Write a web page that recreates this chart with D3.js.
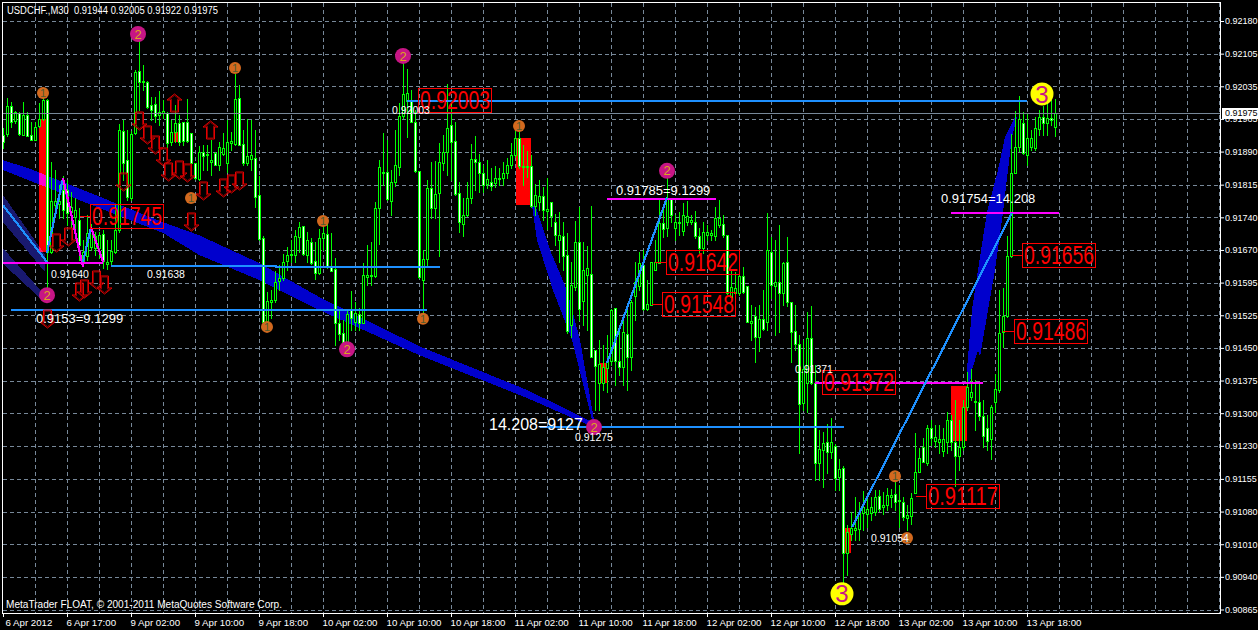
<!DOCTYPE html>
<html>
<head>
<meta charset="utf-8">
<style>
html, body { margin: 0; padding: 0; background: #000; overflow: hidden; }
svg { display: block; }
text { font-family: "Liberation Sans", Arial, sans-serif; }
</style>
<script src="https://cdn.jsdelivr.net/npm/d3@7"></script>
</head>
<body>
<svg></svg>
<script>
var w = 1258, h = 630;

// USDCHF M30 candles, prices in points (1e-5)
var opens = [
91925,91927,91990,91956,91974,91925,91970,91925,91914,91945,
91961,92003,91663,91768,91771,91802,91802,91753,91742,91735,
91643,91654,91675,91672,91672,91704,91637,91643,91663,91713,
91934,91869,91784,91930,92068,92046,92044,91992,91994,91970,
91974,91974,91909,91932,91952,91954,91954,91930,91862,91827,
91887,91880,91865,91885,91858,91883,91862,91907,91905,92008,
91905,91862,91871,91874,91791,91695,91507,91552,91556,91599,
91605,91643,91657,91657,91697,91722,91657,91686,91643,91617,
91695,91704,91630,91625,91505,91482,91460,91534,91507,91525,
91505,91608,91610,91610,91762,91840,91842,91777,91820,91854,
91968,92001,92001,91954,91845,91601,91648,91807,91762,91795,
91862,91887,91947,91912,91795,91726,91746,91784,91871,91865,
91840,91815,91820,91818,91827,91829,91840,91858,91880,91918,
91856,91856,91856,91766,91775,91789,91755,91775,91730,91690,
91699,91657,91500,91585,91686,91554,91612,91614,91444,91370,
91370,91404,91420,91538,91420,91406,91480,91429,91565,91587,
91634,91536,91545,91623,91639,91728,91717,91784,91717,91728,
91710,91730,91730,91730,91699,91672,91701,91701,91699,91724,
91726,91701,91563,91572,91572,91610,91587,91505,91520,91473,
91514,91507,91663,91587,91596,91572,91641,91552,91487,91458,
91326,91370,91471,91370,91191,91221,91238,91216,91230,91160,
91180,90990,91033,91042,91044,91080,91077,91080,91082,91118,
91093,91098,91115,91122,91109,91104,91068,91073,91124,91171,
91227,91191,91270,91241,91238,91218,91238,91288,91238,91207,
91227,91317,91339,91330,91328,91297,91270,91245,91328,91355,
91484,91520,91654,91840,91898,91952,91880,91898,91896,91938,
91965,91952,91963,91944];
var highs = [
91941,92008,91999,91979,91977,91999,91977,91954,91954,91997,
92019,92006,91865,91847,91813,91833,91824,91798,91784,91762,
91690,91746,91726,91708,91708,91713,91690,91690,91768,91950,
91959,91936,91934,92070,92137,92082,92046,92010,92010,92023,
92003,91977,91959,91992,91970,91954,92006,91930,91862,91900,
91903,91903,91914,91887,91909,91930,91959,91932,92061,92037,
91936,91961,91959,91936,91833,91699,91574,91578,91621,91634,
91659,91675,91690,91713,91730,91722,91708,91695,91686,91715,
91726,91726,91706,91650,91534,91511,91534,91576,91552,91538,
91639,91679,91686,91775,91869,91930,91914,91847,91936,91997,
92088,92073,92026,91981,91845,91668,91824,91865,91867,91907,
91925,92039,92003,91954,91820,91784,91820,91905,91923,91883,
91858,91869,91851,91856,91851,91865,91874,91907,91934,91932,
91903,91889,91880,91815,91824,91809,91829,91775,91748,91753,
91730,91706,91641,91733,91764,91686,91677,91766,91444,91467,
91455,91478,91536,91538,91489,91511,91534,91556,91641,91663,
91668,91601,91641,91690,91780,91757,91829,91784,91746,91753,
91773,91777,91746,91755,91717,91730,91724,91713,91764,91780,
91746,91701,91623,91619,91623,91630,91587,91545,91540,91545,
91578,91751,91697,91690,91724,91641,91697,91552,91545,91478,
91467,91529,91543,91411,91265,91261,91279,91292,91234,91200,
91185,91053,91082,91115,91104,91129,91115,91115,91131,91131,
91127,91136,91134,91149,91142,91115,91098,91124,91259,91225,
91247,91276,91288,91276,91276,91270,91306,91299,91332,91288,
91332,91395,91402,91377,91370,91332,91299,91321,91391,91578,
91583,91699,91927,91979,92012,91977,91974,91936,91965,91981,
91990,91997,92003,92005];
var lows = [
91896,91923,91943,91952,91925,91925,91923,91914,91914,91943,
91959,91578,91661,91762,91739,91739,91724,91719,91708,91645,
91632,91645,91668,91657,91650,91628,91625,91637,91661,91708,
91824,91780,91780,91927,91981,92026,91985,91959,91954,91947,
91963,91892,91903,91909,91903,91903,91909,91836,91827,91824,
91847,91847,91836,91858,91847,91880,91842,91892,91903,91903,
91858,91858,91847,91764,91690,91507,91505,91516,91552,91578,
91601,91623,91641,91641,91663,91657,91641,91637,91603,91614,
91668,91628,91621,91455,91467,91455,91455,91489,91489,91489,
91505,91590,91590,91608,91681,91813,91780,91746,91811,91836,
91963,91921,91954,91842,91605,91522,91634,91739,91739,91654,
91847,91836,91824,91791,91708,91699,91744,91773,91802,91798,
91798,91807,91802,91809,91813,91813,91829,91851,91876,91851,
91813,91831,91764,91746,91757,91735,91715,91722,91679,91641,
91623,91482,91473,91578,91511,91500,91489,91429,91310,91310,
91355,91350,91411,91366,91388,91366,91355,91400,91511,91578,
91534,91534,91545,91623,91639,91697,91699,91730,91690,91701,
91701,91724,91726,91695,91661,91661,91690,91690,91690,91719,
91697,91570,91556,91567,91567,91572,91507,91467,91417,91442,
91489,91489,91561,91478,91484,91545,91543,91417,91444,91214,
91310,91306,91368,91153,91153,91138,91169,91203,91131,91131,
90925,90941,91019,91019,91019,91042,91048,91064,91075,91084,
91077,91086,91093,91086,91048,91064,91042,91055,91124,91171,
91194,91187,91232,91227,91214,91207,91214,91221,91140,91176,
91221,91310,91332,91265,91288,91227,91221,91200,91306,91350,
91451,91518,91652,91840,91889,91883,91858,91892,91892,91925,
91925,91925,91947,91922];
var closes = [
91909,91990,91954,91977,91927,91970,91923,91914,91943,91961,
92003,91663,91777,91777,91777,91757,91751,91764,91757,91679,
91663,91706,91717,91699,91701,91643,91641,91666,91713,91936,
91862,91786,91927,92066,92044,92044,91988,91981,91968,91977,
91979,91907,91932,91952,91909,91912,91912,91862,91829,91887,
91878,91883,91869,91858,91898,91896,91909,91912,92006,91903,
91862,91878,91880,91786,91692,91507,91554,91556,91596,91605,
91641,91657,91659,91699,91719,91659,91690,91639,91617,91695,
91706,91632,91621,91505,91480,91460,91525,91516,91527,91505,
91612,91612,91612,91762,91854,91842,91782,91820,91858,91968,
92017,92019,91954,91845,91608,91648,91807,91762,91793,91865,
91887,91941,91909,91793,91730,91746,91784,91871,91865,91840,
91813,91827,91811,91829,91829,91840,91858,91880,91918,91856,
91854,91854,91766,91791,91789,91757,91760,91744,91701,91701,
91654,91487,91590,91686,91536,91623,91628,91429,91408,91413,
91406,91417,91534,91420,91406,91484,91429,91552,91596,91639,
91536,91547,91641,91641,91728,91715,91784,91746,91730,91730,
91746,91744,91735,91699,91672,91708,91708,91706,91739,91739,
91701,91572,91585,91583,91610,91574,91507,91509,91473,91514,
91491,91668,91590,91596,91572,91639,91552,91484,91458,91323,
91402,91471,91370,91191,91223,91236,91216,91238,91158,91178,
90990,91037,91046,91046,91082,91093,91089,91093,91115,91089,
91098,91120,91120,91104,91107,91071,91075,91113,91171,91203,
91194,91270,91247,91250,91245,91245,91288,91238,91207,91227,
91317,91361,91350,91328,91297,91252,91241,91317,91357,91482,
91520,91654,91840,91898,91961,91885,91918,91918,91941,91965,
91952,91963,91959,91975];

var lastPrice = 91975;
var titleText = "USDCHF.,M30  0.91944 0.92005 0.91922 0.91975";
var copyText = "MetaTrader FLOAT, \u00a9 2001-2011 MetaQuotes Software Corp.";

var timeBars = [0,16,32,48,64,80,96,112,128,144,160,176,192,208,224,240,256];
var timeLabels = ["6 Apr 2012","6 Apr 17:00","9 Apr 02:00","9 Apr 10:00","9 Apr 18:00","10 Apr 02:00",
    "10 Apr 10:00","10 Apr 18:00","11 Apr 02:00","11 Apr 10:00","11 Apr 18:00","12 Apr 02:00",
    "12 Apr 10:00","12 Apr 18:00","13 Apr 02:00","13 Apr 10:00","13 Apr 18:00"];
var tickPrices = [92180,92107,92034,91961,91888,91814,91741,91668,91595,91522,91449,91376,91303,91230,91156,91083,91010,90937,90864];
var priceLabels = ["0.92180","0.92105","0.92035","0.91965","0.91890","0.91815","0.91740","0.91670","0.91595","0.91525",
    "0.91450","0.91375","0.91300","0.91230","0.91155","0.91080","0.91010","0.90940","0.90865"];

// ribbons: bar, upper price, lower price
var ribbonBars = [0,7.5,40,49,64,79,104,131,147];
var ribbonTop = [91869,91847,91730,91701,91639,91563,91453,91355,91285];
var ribbonBottom = [91847,91820,91706,91657,91601,91534,91433,91337,91274];
// outlines: bars and prices going round the shape
var fallBars = [132.25,133.5,137.5,142.25,147.25,147.75,144.25,141,136.75,133.25];
var fallPrices = [91768,91690,91578,91467,91288,91288,91467,91578,91668,91764];
var riseBars = [241.25,241,241.25,242.25,243.75,246,248.75,250.5,253,253.5,252.25,251.25,250,248,246.25,244.25,243.75,242.25,241.75];
var risePrices = [91373,91400,91429,91534,91623,91753,91847,91921,91965,91965,91921,91847,91753,91623,91534,91429,91444,91400,91373];
var navyABars = [0,10.5,10.5,0];
var navyAPrices = [91791,91657,91619,91730];
var navyBBars = [0,9.75,9.75,0];
var navyBPrices = [91672,91574,91556,91637];

// red zones: first bar, last bar, top price, bottom price
var zoneStart = [9,128.25,149.25,237,210.5,42.75];
var zoneEnd = [11,132,151,241,212,43.75];
var zoneTop = [91961,91918,91415,91364,91046,91932];
var zoneBottom = [91663,91768,91370,91241,90990,91909];

// level lines
var blueStart = [27,68,2,101,134.25];
var blueEnd = [68.5,109.25,106,256,210.25];
var bluePrice = [91634,91632,91536,92003,91275];
var magentaStart = [0,151,237,203];
var magentaEnd = [25,178.25,264,245];
var magentaPrice = [91641,91785,91754,91372];

// swing lines
var legBar1 = [0,11,15,20,22,151,212.25];
var legPrice1 = [91768,91661,91829,91641,91719,91415,91048];
var legBar2 = [11,15,20,22,25,166,252.25];
var legPrice2 = [91641,91829,91630,91719,91641,91785,91751];
var legColor = ["#1e90ff","#1e90ff","#ff00ff","#1e90ff","#ff00ff","#1e90ff","#1e90ff"];

// numbered wave markers
var waveBars = [10,58,47,80,66,105,129,223,226, 33.75,100,11,86,147.75,166, 259.75,209.75];
var wavePrices = [92019,92075,91784,91733,91496,91514,91945,91162,91024, 92151,92102,91567,91446,91272,91845, 92017,90899];
var waveNums = [1,1,1,1,1,1,1,1,1, 2,2,2,2,2,2, 3,3];

// arrows: bar and price of the top of the glyph
var downBars = [34,36,38,40,41.25,44,46,50,55,57,59,30,13.25,16.25,47,19,20.25,23.25,25.25,11];
var downPrices = [91977,91945,91923,91896,91862,91867,91860,91820,91827,91836,91842,91840,91704,91717,91751,91594,91601,91621,91610,91534];
var upBars = [42.75,51.75];
var upPrices = [92017,91956];

// red price boxes
var boxText = ["0.91745","0.92003","0.91642","0.91548","0.91372","0.91117","0.91656","0.91486"];
var boxBars = [21.75,103.75,165.75,164.75,204.75,230.75,254.75,252.75];
var boxPrices = [91745,92003,91642,91548,91372,91117,91656,91486];
var boxFrom = [19.25,103.75,163,162.25,204.75,228.25,252.25,250];

// white notes
var noteText = ["0.91640","0.91638","0.9153=9.1299","0.92003","14.208=9127","0.91275","0.91785=9.1299","0.91754=14.208","0.91371","0.91054"];
var noteBars = [12,36,8.25,97.25,121.5,143,153.25,234.5,198,217];
var notePrices = [91614,91614,91516,91981,91279,91250,91802,91784,91402,91024];
var noteSizes = [10.5,10.5,13,10.5,16,10.5,13,13,10.5,10.5];

var GRID = "#778899", LIME = "#00ff00", RED = "#ff0000";

var xScale = d3.scaleLinear().domain([0, 304.25]).range([3, 1220]);
var yScale = d3.scaleLinear().domain([92180, 90864]).range([21, 609.5]);
var px = function (b) { return Math.round(xScale(b)); };
var py = function (p) { return Math.round(yScale(p)); };

var svg = d3.select("svg")
    .attr("width", w)
    .attr("height", h)
    .style("background-color", "black");

// grid
var gridG = svg.append("g")
    .attr("stroke", GRID)
    .attr("stroke-dasharray", "4,3")
    .attr("shape-rendering", "crispEdges");
gridG.selectAll(".gx")
    .data(d3.range(8, 305, 8))
    .join("line")
    .attr("x1", function (d) { return px(d) + 0.5; })
    .attr("x2", function (d) { return px(d) + 0.5; })
    .attr("y1", 3)
    .attr("y2", 613);
gridG.selectAll(".gy")
    .data(tickPrices)
    .join("line")
    .attr("x1", 3)
    .attr("x2", 1220)
    .attr("y1", function (d) { return py(d) + 0.5; })
    .attr("y2", function (d) { return py(d) + 0.5; });

// zones and ribbons, screen blended so the overlap comes out magenta
var back = svg.append("g").style("isolation", "isolate").attr("shape-rendering", "crispEdges");
back.selectAll("rect")
    .data(zoneStart)
    .join("rect")
    .attr("x", function (d) { return px(d); })
    .attr("width", function (d, i) { return px(zoneEnd[i]) - px(d); })
    .attr("y", function (d, i) { return py(zoneTop[i]); })
    .attr("height", function (d, i) { return py(zoneBottom[i]) - py(zoneTop[i]); })
    .attr("fill", RED);

var lineMaker = d3.line()
    .x(function (d) { return xScale(d[0]); })
    .y(function (d) { return yScale(d[1]); });
var bandMaker = d3.area()
    .x(function (d) { return xScale(d); })
    .y0(function (d, i) { return yScale(ribbonBottom[i]); })
    .y1(function (d, i) { return yScale(ribbonTop[i]); });

back.append("path").attr("d", bandMaker(ribbonBars)).attr("fill", "#0000cd").style("mix-blend-mode", "screen");
[[fallBars, fallPrices, "#0000cd"], [riseBars, risePrices, "#0000cd"],
 [navyABars, navyAPrices, "#191970"], [navyBBars, navyBPrices, "#191970"]].forEach(function (s) {
    back.append("path")
        .attr("d", lineMaker(d3.zip(s[0], s[1])) + "Z")
        .attr("fill", s[2])
        .style("mix-blend-mode", "screen");
});

// candles
var bars = d3.range(opens.length);
var candles = svg.append("g")
    .attr("stroke", LIME)
    .attr("shape-rendering", "crispEdges");
candles.selectAll("line")
    .data(bars)
    .join("line")
    .attr("x1", function (d) { return px(d) + 0.5; })
    .attr("x2", function (d) { return px(d) + 0.5; })
    .attr("y1", function (d) { return py(highs[d]); })
    .attr("y2", function (d) { return py(lows[d]) + 1; });
candles.selectAll("rect")
    .data(bars)
    .join("rect")
    .attr("x", function (d) { return px(d) - 0.5; })
    .attr("width", 2)
    .attr("y", function (d) { return py(Math.max(opens[d], closes[d])) + 0.5; })
    .attr("height", function (d) { return py(Math.min(opens[d], closes[d])) - py(Math.max(opens[d], closes[d])); })
    .attr("fill", function (d) { return closes[d] >= opens[d] ? "black" : "white"; });

// current price line
svg.append("line")
    .attr("x1", 3).attr("x2", 1220)
    .attr("y1", py(lastPrice) + 0.5).attr("y2", py(lastPrice) + 0.5)
    .attr("stroke", GRID)
    .attr("shape-rendering", "crispEdges");

// levels and swings
function levels(starts, ends, prices, color) {
    svg.append("g").selectAll("line")
        .data(starts)
        .join("line")
        .attr("x1", function (d) { return px(d); })
        .attr("x2", function (d, i) { return px(ends[i]); })
        .attr("y1", function (d, i) { return py(prices[i]) + 0.5; })
        .attr("y2", function (d, i) { return py(prices[i]) + 0.5; })
        .attr("stroke", color)
        .attr("stroke-width", 2)
        .attr("shape-rendering", "crispEdges");
}
levels(blueStart, blueEnd, bluePrice, "#1e90ff");
levels(magentaStart, magentaEnd, magentaPrice, "#ff00ff");

svg.append("g").selectAll("line")
    .data(legBar1)
    .join("line")
    .attr("x1", function (d) { return xScale(d); })
    .attr("y1", function (d, i) { return yScale(legPrice1[i]); })
    .attr("x2", function (d, i) { return xScale(legBar2[i]); })
    .attr("y2", function (d, i) { return yScale(legPrice2[i]); })
    .attr("stroke", function (d, i) { return legColor[i]; })
    .attr("stroke-width", 2.2)
    .attr("shape-rendering", "crispEdges");

// wave markers
var waveR = { 1: 6, 2: 8, 3: 11.5 };
var waveFill = { 1: "#d2691e", 2: "#c71585", 3: "#ffff00" };
var waveInk = { 1: "#4f5a30", 2: "#daa520", 3: "#c71585" };
var waveSize = { 1: 11, 2: 13, 3: 24 };
var wave = svg.append("g").selectAll("g")
    .data(waveNums)
    .join("g")
    .attr("transform", function (d, i) { return "translate(" + xScale(waveBars[i]) + "," + yScale(wavePrices[i]) + ")"; });
wave.append("circle")
    .attr("r", function (d) { return waveR[d]; })
    .attr("fill", function (d) { return waveFill[d]; });
wave.append("text")
    .attr("text-anchor", "middle")
    .attr("dy", "0.36em")
    .attr("font-size", function (d) { return waveSize[d]; })
    .attr("fill", function (d) { return waveInk[d]; })
    .text(function (d) { return d; });

// arrows
var arrowShape = d3.line()([[-4, 0], [4, 0], [4, 12], [7.5, 12], [0, 18], [-7.5, 12], [-4, 12]]) + "Z";
var arrowInner = d3.line()([[-3, 1], [3, 1], [3, 13], [5, 13], [0, 16.5], [-5, 13], [-3, 13]]) + "Z";
function arrows(barList, priceList, up) {
    var a = svg.append("g").selectAll("g")
        .data(barList)
        .join("g")
        .attr("transform", function (d, i) {
            var t = "translate(" + (px(d) + 0.5) + "," + py(priceList[i]) + ")";
            return up ? t + "translate(0,18)scale(1,-1)" : t;
        })
        .attr("fill", "none");
    a.append("path").attr("d", arrowInner).attr("stroke", "#8b0000");
    a.append("path").attr("d", arrowShape).attr("stroke", "#e60000");
}
arrows(downBars, downPrices, false);
arrows(upBars, upPrices, true);

// red boxes
var box = svg.append("g").selectAll("g")
    .data(boxText)
    .join("g");
box.append("line")
    .attr("x1", function (d, i) { return px(boxFrom[i]); })
    .attr("x2", function (d, i) { return px(boxBars[i]); })
    .attr("y1", function (d, i) { return py(boxPrices[i]) + 0.5; })
    .attr("y2", function (d, i) { return py(boxPrices[i]) + 0.5; })
    .attr("stroke", RED)
    .attr("shape-rendering", "crispEdges");
box.append("rect")
    .attr("x", function (d, i) { return px(boxBars[i]) + 0.5; })
    .attr("y", function (d, i) { return py(boxPrices[i]) - 12 + 0.5; })
    .attr("width", 73)
    .attr("height", 24)
    .attr("fill", "none")
    .attr("stroke", RED)
    .attr("shape-rendering", "crispEdges");
box.append("text")
    .attr("x", function (d, i) { return px(boxBars[i]) + 2; })
    .attr("y", function (d, i) { return py(boxPrices[i]) + 9; })
    .attr("font-size", 25)
    .attr("textLength", 70)
    .attr("lengthAdjust", "spacingAndGlyphs")
    .attr("fill", RED)
    .text(function (d) { return d; });

// notes
svg.append("g").selectAll("text")
    .data(noteText)
    .join("text")
    .attr("x", function (d, i) { return px(noteBars[i]); })
    .attr("y", function (d, i) { return py(notePrices[i]); })
    .attr("dy", "0.36em")
    .attr("font-size", function (d, i) { return noteSizes[i]; })
    .attr("fill", "white")
    .text(function (d) { return d; });

// frame and axes
svg.append("rect")
    .attr("x", 2.5).attr("y", 2.5)
    .attr("width", 1218).attr("height", 611)
    .attr("fill", "none")
    .attr("stroke", "white")
    .attr("shape-rendering", "crispEdges");

var xAxis = d3.axisBottom(xScale)
    .tickValues(timeBars)
    .tickSize(4)
    .tickPadding(2)
    .tickFormat(function (d, i) { return timeLabels[i]; });
var xg = svg.append("g").attr("transform", "translate(0,613)").call(xAxis);
xg.select(".domain").remove();
xg.selectAll("line").attr("stroke", "white");
xg.selectAll("text")
    .attr("text-anchor", "start")
    .attr("dx", function (d, i) { return i === 0 ? 2 : -1; })
    .attr("fill", "white")
    .attr("font-family", "Liberation Sans")
    .attr("font-size", 9.7);

var yAxis = d3.axisRight(yScale)
    .tickValues(tickPrices)
    .tickSize(4)
    .tickPadding(1)
    .tickFormat(function (d, i) { return priceLabels[i]; });
var yg = svg.append("g").attr("transform", "translate(1220,0)").call(yAxis);
yg.select(".domain").remove();
yg.selectAll("line").attr("stroke", "white");
yg.selectAll("text")
    .attr("fill", "white")
    .attr("font-family", "Liberation Sans")
    .attr("font-size", 9);

// last price tag
svg.append("rect")
    .attr("x", 1222).attr("y", py(lastPrice) - 5)
    .attr("width", 36).attr("height", 11)
    .attr("fill", "white");
svg.append("text")
    .attr("x", 1225).attr("y", py(lastPrice))
    .attr("dy", "0.36em")
    .attr("font-size", 9)
    .attr("fill", "black")
    .text("0.91975");

svg.append("text")
    .attr("x", 7).attr("y", 14)
    .attr("font-size", 10)
    .attr("textLength", 211)
    .attr("lengthAdjust", "spacingAndGlyphs")
    .attr("fill", "white")
    .style("white-space", "pre")
    .text(titleText);
svg.append("text")
    .attr("x", 6).attr("y", 608)
    .attr("font-size", 10)
    .attr("textLength", 276)
    .attr("lengthAdjust", "spacingAndGlyphs")
    .attr("fill", "white")
    .text(copyText);
</script>
</body>
</html>
